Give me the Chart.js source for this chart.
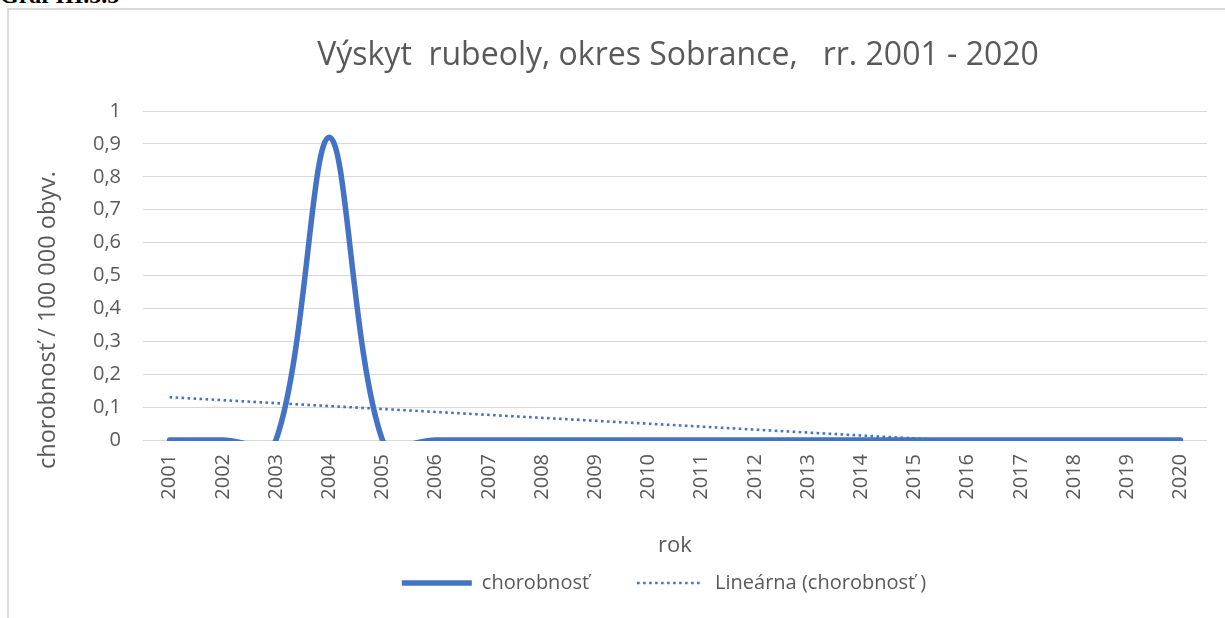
<!DOCTYPE html>
<html><head><meta charset="utf-8">
<script src="https://cdn.jsdelivr.net/npm/chart.js@4.4.1/dist/chart.umd.min.js"></script>
<style>
html,body{margin:0;padding:0;background:#fff;width:1225px;height:618px;overflow:hidden;}
#hdr{position:absolute;left:0;top:-17px;font:bold 24px/24px "Liberation Serif",serif;color:#000;white-space:nowrap;}
#frame{position:absolute;left:7px;top:8px;width:1240px;height:640px;border:2px solid #D9D9D9;box-sizing:border-box;}
#wrap{position:absolute;left:0;top:0;width:1225px;height:618px;}
</style></head><body>
<div id="hdr">Graf III.5.5</div>
<div id="frame"></div>
<div id="wrap"><canvas id="c" width="1225" height="618"></canvas></div>
<script>
const chartTitle = 'Výskyt  rubeoly, okres Sobrance,   rr. 2001 - 2020';
const years = ['2001','2002','2003','2004','2005','2006','2007','2008','2009','2010',
               '2011','2012','2013','2014','2015','2016','2017','2018','2019','2020'];
const chorobnost = [0,0,0,0.92,0,0,0,0,0,0,0,0,0,0,0,0,0,0,0,0];
// linear trend line: endpoints only
const trendLine = [0.13,null,null,null,null,null,null,null,null,null,
                   null,null,null,null,null,null,null,null,null,-0.04];
const yTickLabels = ['0','0,1','0,2','0,3','0,4','0,5','0,6','0,7','0,8','0,9','1'];
const seriesLabel = 'chorobnosť';
const trendLabel = 'Lineárna (chorobnosť )';
const xTitle = 'rok';
const yTitle = 'chorobnosť / 100 000 obyv.';

const FONT = '"Open Sans", "Noto Sans", sans-serif';
const GREY = '#595959';
const BLUE = '#4472C4';

// dotted legend sample for the trend line
const dotIcon = document.createElement('canvas');
dotIcon.width = 66; dotIcon.height = 4;
(function(){
  const g = dotIcon.getContext('2d');
  g.strokeStyle = BLUE; g.lineWidth = 2.6;
  g.setLineDash([2.6, 3.4]);
  g.beginPath(); g.moveTo(0, 2); g.lineTo(66, 2); g.stroke();
})();

const textPlugin = {
  id: 'customTexts',
  afterLayout(chart) {
    // centre the legend like the reference (between x=121 and the plot's right edge)
    if (chart.legend) { chart.legend.left = 121; }
  },
  afterDraw(chart) {
    const {ctx, chartArea: a} = chart;
    ctx.save();
    ctx.fillStyle = GREY;
    ctx.textAlign = 'center';
    ctx.textBaseline = 'middle';
    ctx.font = '32px ' + FONT;
    ctx.fillText(chartTitle, (a.left + a.right) / 2 + 3, 56);
    ctx.translate(48, 320);
    ctx.rotate(-Math.PI / 2);
    ctx.font = '23.5px ' + FONT;
    ctx.fillText(yTitle, 0, 0);
    ctx.restore();
  }
};

new Chart(document.getElementById('c'), {
  type: 'line',
  data: {
    labels: years,
    datasets: [
      {
        label: seriesLabel,
        data: chorobnost,
        borderColor: BLUE,
        backgroundColor: BLUE,
        borderWidth: 5.5,
        tension: 0.33,
        pointRadius: 0,
        pointHoverRadius: 0,
        pointStyle: 'line',
        fill: false,
        borderCapStyle: 'round',
        clip: {left: 10, top: 10, right: 10, bottom: 1}
      },
      {
        label: trendLabel,
        data: trendLine,
        borderColor: BLUE,
        backgroundColor: BLUE,
        borderWidth: 2.6,
        borderDash: [2.6, 3.4],
        spanGaps: true,
        tension: 0,
        pointRadius: 0,
        pointHoverRadius: 0,
        pointStyle: dotIcon,
        fill: false,
        clip: {left: 5, top: 5, right: 5, bottom: 0}
      }
    ]
  },
  options: {
    responsive: false,
    animation: false,
    devicePixelRatio: 1,
    elements: { line: { capBezierPoints: false } },
    layout: { padding: { left: 0, right: 18, top: 111, bottom: 15 } },
    plugins: {
      title: { display: false },
      tooltip: { enabled: false },
      legend: {
        display: true,
        position: 'bottom',
        labels: {
          color: GREY,
          font: { family: FONT, size: 20 },
          usePointStyle: true,
          pointStyleWidth: 70,
          padding: 46
        }
      }
    },
    scales: {
      x: {
        offset: true,
        grid: { display: false, drawTicks: false },
        border: { display: false },
        ticks: {
          color: GREY,
          font: { family: FONT, size: 20 },
          minRotation: 90,
          maxRotation: 90,
          padding: 14
        },
        title: {
          display: true,
          text: xTitle,
          color: GREY,
          font: { family: FONT, size: 22 },
          padding: { top: 0, bottom: -32 }
        },
        afterFit(scale) { scale.height = 87; }
      },
      y: {
        min: 0,
        max: 1,
        grid: { color: '#D9D9D9', lineWidth: 1, drawTicks: false },
        border: { display: false },
        ticks: {
          stepSize: 0.1,
          color: GREY,
          font: { family: FONT, size: 20 },
          padding: 22,
          callback: (v, i) => yTickLabels[i]
        },
        title: { display: false },
        afterFit(scale) { scale.width = 143; }
      }
    }
  },
  plugins: [textPlugin]
});
</script>
</body></html>
